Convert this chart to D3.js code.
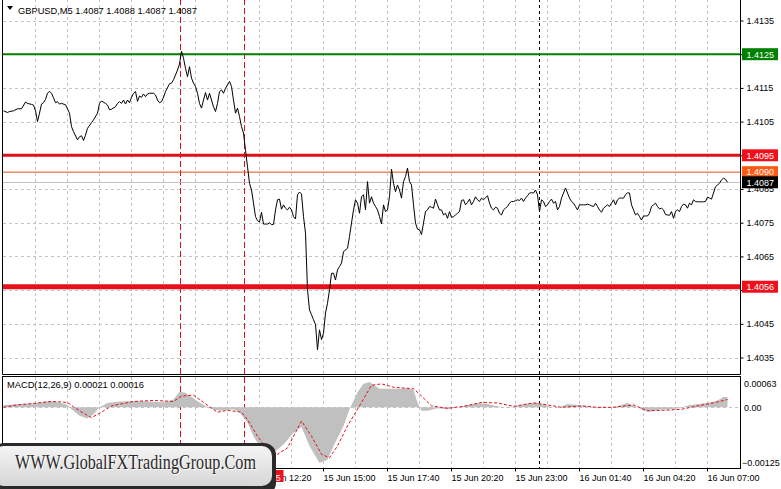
<!DOCTYPE html>
<html><head><meta charset="utf-8">
<script src="https://cdn.jsdelivr.net/npm/d3@7"></script>
<style>html,body{margin:0;padding:0;background:#fff;}svg{display:block;font-family:"Liberation Sans",Arial,sans-serif;}</style>
</head><body><svg id="c" width="781" height="489"></svg>
<script>
// ---------------- DATA ----------------
const symbolTitle = "GBPUSD,M5  1.4087 1.4088 1.4087 1.4087";
const macdTitle = "MACD(12,26,9) 0.00021 0.00016";
const watermarkText = "WWW.GlobalFXTradingGroup.Com";

// bar index (5-minute bars from 15 Jun 01:40) and close price
const priceBars = [0,2,3,5,7,9,11,12,14,15,16,17,18,19,20,21,22,23,24,25,26,27,28,29,31,33,34,35,37,38,39,40,41,42,44,45,47,48,49,51,52,53,54,56,57,58,59,60,61,62,63,64,65,66,67,68,69,70,71,72,73,75,76,77,78,79,80,81,83,84,85,87,88,89,90,91,92,93,94,95,96,97,98,99,100,101,102,103,104,105,106,107,108,109,110,111,112,113,114,115,116,117,118,119,120,121,122,123,124,125,126,127,128,129,130,131,132,133,134,135,136,137,138,139,140,141,142,143,144,145,146,147,148,149,150,151,152,153,154,155,156,157,158,159,160,161,162,163,164,165,166,167,168,169,170,172,173,174,175,176,177,178,179,180,181,182,183,184,185,186,187,188,189,190,191,192,193,194,195,196,197,198,199,200,201,202,203,204,205,206,207,208,209,210,211,212,213,214,215,216,217,218,219,220,221,222,223,224,225,226,227,228,229,230,231,232,233,234,235,236,237,238,239,240,241,242,243,244,245,246,247,248,249,250,251,252,253,254,255,256,257,258,259,260,261,262,263,264,265,266,267,268,269,270,271,272,273,274,275,276,277,278,279,280,281,282,283,284,285,286,287,288,289,290,291,292,293,294,295,296,297,298,299,300,301,302,303,304,305,306,307,308,309,310,311,312,313,314,315,316,317,318,319,320,321,322,323,324,325,326,327,328,329,330,331,332,333,334,335,336,337,338,339,340,341,342,343,344,345,346,347,348,349,350,351,352,353,354,355,356,357,358,359,360,361,362];
const priceCloses = [1.41082,1.41077,1.41080,1.41082,1.41088,1.41088,1.41108,1.41104,1.41101,1.41099,1.41082,1.41050,1.41075,1.41102,1.41106,1.41116,1.41134,1.41140,1.41134,1.41121,1.41106,1.41109,1.41102,1.41104,1.41100,1.41075,1.41035,1.41020,1.40996,1.41005,1.41008,1.40994,1.41010,1.41030,1.41047,1.41055,1.41075,1.41104,1.41111,1.41104,1.41099,1.41085,1.41087,1.41094,1.41104,1.41109,1.41104,1.41114,1.41102,1.41114,1.41106,1.41122,1.41134,1.41139,1.41110,1.41126,1.41122,1.41132,1.41124,1.41132,1.41134,1.41134,1.41129,1.41114,1.41106,1.41109,1.41122,1.41139,1.41162,1.41164,1.41174,1.41203,1.41221,1.41259,1.41238,1.41208,1.41183,1.41213,1.41179,1.41164,1.41154,1.41134,1.41104,1.41090,1.41114,1.41136,1.41114,1.41134,1.41114,1.41094,1.41080,1.41104,1.41139,1.41144,1.41134,1.41149,1.41159,1.41169,1.41154,1.41114,1.41075,1.41090,1.41065,1.41035,1.41016,1.40965,1.40916,1.40867,1.40847,1.40808,1.40768,1.40756,1.40752,1.40781,1.40746,1.40746,1.40746,1.40750,1.40744,1.40745,1.40788,1.40818,1.40820,1.40790,1.40803,1.40793,1.40788,1.40796,1.40788,1.40768,1.40761,1.40833,1.40841,1.40835,1.40768,1.40719,1.40551,1.40491,1.40477,1.40462,1.40448,1.40373,1.40432,1.40403,1.40422,1.40482,1.40511,1.40551,1.40600,1.40600,1.40580,1.40610,1.40620,1.40630,1.40664,1.40674,1.40709,1.40749,1.40788,1.40818,1.40808,1.40778,1.40827,1.40833,1.40788,1.40872,1.40808,1.40827,1.40808,1.40798,1.40788,1.40768,1.40746,1.40803,1.40783,1.40788,1.40827,1.40909,1.40867,1.40842,1.40862,1.40847,1.40823,1.40872,1.40887,1.40912,1.40872,1.40862,1.40803,1.40749,1.40731,1.40729,1.40715,1.40749,1.40783,1.40788,1.40798,1.40796,1.40793,1.40820,1.40803,1.40788,1.40788,1.40773,1.40778,1.40763,1.40783,1.40766,1.40768,1.40773,1.40778,1.40783,1.40816,1.40818,1.40803,1.40810,1.40820,1.40803,1.40813,1.40827,1.40818,1.40813,1.40823,1.40818,1.40824,1.40830,1.40808,1.40793,1.40788,1.40796,1.40793,1.40778,1.40773,1.40788,1.40793,1.40798,1.40808,1.40813,1.40813,1.40815,1.40818,1.40816,1.40823,1.40813,1.40823,1.40830,1.40838,1.40839,1.40838,1.40847,1.40833,1.40783,1.40818,1.40813,1.40798,1.40803,1.40813,1.40820,1.40808,1.40813,1.40788,1.40798,1.40823,1.40838,1.40853,1.40838,1.40823,1.40813,1.40808,1.40798,1.40788,1.40803,1.40803,1.40803,1.40803,1.40805,1.40803,1.40800,1.40798,1.40808,1.40798,1.40788,1.40781,1.40793,1.40798,1.40803,1.40798,1.40808,1.40818,1.40803,1.40818,1.40823,1.40823,1.40823,1.40833,1.40839,1.40838,1.40803,1.40788,1.40773,1.40778,1.40768,1.40758,1.40770,1.40770,1.40770,1.40778,1.40798,1.40803,1.40808,1.40798,1.40791,1.40793,1.40788,1.40774,1.40773,1.40772,1.40783,1.40763,1.40783,1.40788,1.40783,1.40798,1.40805,1.40803,1.40793,1.40808,1.40803,1.40818,1.40813,1.40812,1.40812,1.40812,1.40812,1.40813,1.40826,1.40823,1.40820,1.40838,1.40857,1.40862,1.40867,1.40877,1.40882,1.40879,1.40870];

// MACD histogram (main line) and signal line readings
const histBars   = [0,9,15,23,28,32,34,38,42,45,48,52,58,65,73,80,85,88,91,94,98,103,108,115,118,122,125,128,132,135,140,145,149,153,158,162,165,170,173,177,180,183,188,192,198,202,205,207,209,212,217,222,227,232,237,242,247,252,257,262,267,272,277,282,287,292,297,302,307,312,317,320,323,328,333,338,343,348,353,357,360,362];
const histValues = [0.00005,0.00007,0.00008,0.00013,0.00010,0.00005,-0.00004,-0.00017,-0.00023,-0.00014,0.00000,0.00009,0.00012,0.00013,0.00012,0.00010,0.00016,0.00032,0.00030,0.00021,0.00010,-0.00002,-0.00007,-0.00004,-0.00010,-0.00031,-0.00059,-0.00079,-0.00090,-0.00093,-0.00076,-0.00052,-0.00040,-0.00079,-0.00114,-0.00107,-0.00079,-0.00038,-0.00004,0.00031,0.00048,0.00052,0.00038,0.00038,0.00038,0.00039,0.00036,0.00010,-0.00007,-0.00007,-0.00002,-0.00004,0.00000,0.00005,0.00009,0.00007,0.00002,-0.00001,0.00003,0.00008,0.00010,0.00003,-0.00002,0.00007,0.00005,0.00002,-0.00002,-0.00001,0.00002,0.00009,0.00000,-0.00007,-0.00009,-0.00005,-0.00004,-0.00002,0.00005,0.00007,0.00010,0.00014,0.00021,0.00021];
const signalBars   = [0,7,15,24,32,35,40,44,49,54,65,75,85,89,95,100,107,112,119,122,127,132,137,142,149,154,159,163,167,172,179,184,189,195,205,208,214,222,230,239,247,255,265,272,279,289,297,305,315,322,330,339,347,355,362];
const signalValues = [0.00000,0.00005,0.00008,0.00012,0.00010,0.00001,-0.00012,-0.00021,-0.00010,0.00003,0.00012,0.00014,0.00012,0.00023,0.00025,0.00010,-0.00010,-0.00006,-0.00010,-0.00025,-0.00059,-0.00086,-0.00096,-0.00083,-0.00028,-0.00059,-0.00096,-0.00103,-0.00079,-0.00038,0.00010,0.00045,0.00048,0.00041,0.00038,0.00027,0.00003,-0.00002,0.00002,0.00010,0.00009,0.00002,0.00009,0.00005,0.00000,0.00003,0.00000,0.00000,0.00005,-0.00007,-0.00006,-0.00004,0.00003,0.00009,0.00016];

const priceTicks = [1.4035,1.4045,1.4055,1.4065,1.4075,1.4085,1.4095,1.4105,1.4115,1.4125,1.4135];
const macdTicks = [0.00063, 0, -0.00125];
// visible time-scale labels (earlier ones lie under the watermark)
const timeLabelBars = [128,160,192,224,256,288,320,352];
const timeLabels = ["15 Jun 12:20","15 Jun 15:00","15 Jun 17:40","15 Jun 20:20","15 Jun 23:00","16 Jun 01:40","16 Jun 04:20","16 Jun 07:00"];
const levelPrices = [1.4125, 1.4095, 1.4090, 1.4056];
const bidPrice = 1.4087;
const vLineBars = [89, 121];
const vLineLabel = "15 Jun 11:45";
const daySeparatorBars = [268];
const gridStepBars = 16;
const lastBar = 368;

// ---------------- STYLES ----------------
const levelStyle = [
  {color:"#008000", width:2, box:"#008000"},
  {color:"#e0101a", width:3, box:"#f0101c"},
  {color:"#e8501a", width:1, box:"#ff5a14"},
  {color:"#e8101a", width:5, box:"#f0101c"}
];

// ---------------- LAYOUT ----------------
const svg = d3.select("#c");
const L = 2.5, R = 740.5, MT = -1, MB = 374.5, ST = 376.5, SB = 468.5;

const x = d3.scaleLinear().domain([0, 1]).range([3.5, 5.5]);
const y = d3.scaleLinear().domain([1.4035, 1.4135]).range([357.5, 20.5]);
const ym = d3.scaleLinear().domain([-0.00125, 0.00063]).range([SB, ST]);

const gridColor = "#c4c4c4";
const dash = "3,3";

const defs = svg.append("defs");
defs.append("clipPath").attr("id","cm").append("rect").attr("x",L).attr("y",0).attr("width",R-L).attr("height",MB);
defs.append("clipPath").attr("id","cs").append("rect").attr("x",L).attr("y",ST).attr("width",R-L).attr("height",SB-ST);

// vertical grid (both panels)
const gridBars = d3.range(gridStepBars, lastBar, gridStepBars);
[[MT, MB],[ST, SB]].forEach(([t,b]) => {
  svg.append("g").selectAll("line").data(gridBars).join("line")
    .attr("x1", d=>x(d)).attr("x2", d=>x(d))
    .attr("y1", t).attr("y2", b)
    .attr("stroke", gridColor).attr("stroke-dasharray", dash).attr("shape-rendering","crispEdges");
});
// horizontal grid main
svg.append("g").selectAll("line").data(priceTicks).join("line")
  .attr("x1", L).attr("x2", R).attr("y1", d=>Math.round(y(d))+0.5).attr("y2", d=>Math.round(y(d))+0.5)
  .attr("stroke", gridColor).attr("stroke-dasharray", dash).attr("shape-rendering","crispEdges");
// zero line MACD
svg.append("line").attr("x1",L).attr("x2",R).attr("y1",Math.round(ym(0))+0.5).attr("y2",Math.round(ym(0))+0.5)
  .attr("stroke", gridColor).attr("stroke-dasharray", dash).attr("shape-rendering","crispEdges");

// day separator
svg.append("g").selectAll("line").data(daySeparatorBars).join("line")
  .attr("x1", d=>x(d)).attr("x2", d=>x(d)).attr("y1", MT).attr("y2", SB)
  .attr("stroke", "#000").attr("stroke-dasharray", "3,3").attr("shape-rendering","crispEdges");

// vertical red dashed lines
svg.append("g").selectAll("line").data(vLineBars).join("line")
  .attr("x1", d=>x(d)-1).attr("x2", d=>x(d)-1).attr("y1", MT).attr("y2", SB)
  .attr("stroke", "#e0101a").attr("stroke-dasharray", "6,3").attr("shape-rendering","crispEdges");

// bid line
svg.append("line").attr("x1",L).attr("x2",R).attr("y1",Math.round(y(bidPrice))+0.5).attr("y2",Math.round(y(bidPrice))+0.5)
  .attr("stroke","#c0c0c0").attr("shape-rendering","crispEdges");

// level lines
levelPrices.forEach((p,i) => {
  svg.append("line").attr("x1",L).attr("x2",R).attr("y1",y(p)).attr("y2",y(p))
    .attr("stroke", levelStyle[i].color).attr("stroke-width", levelStyle[i].width);
});

// price line
const priceData = priceBars.map((b,i)=>({b, v:priceCloses[i]}));
svg.append("path").datum(priceData).attr("clip-path","url(#cm)")
  .attr("d", d3.line().x(d=>x(d.b)).y(d=>y(d.v)))
  .attr("fill","none").attr("stroke","#000").attr("stroke-width",1);

// MACD histogram
const histData = histBars.map((b,i)=>({b, v:histValues[i]}));
svg.append("path").datum(histData).attr("clip-path","url(#cs)")
  .attr("d", d3.area().x(d=>x(d.b)).y0(ym(0)).y1(d=>ym(d.v)))
  .attr("fill","#c0c0c0");
// signal
const sigData = signalBars.map((b,i)=>({b, v:signalValues[i]}));
svg.append("path").datum(sigData).attr("clip-path","url(#cs)")
  .attr("d", d3.line().x(d=>x(d.b)).y(d=>ym(d.v)))
  .attr("fill","none").attr("stroke","#e0101a").attr("stroke-dasharray","3,2");

// frames
svg.append("line").attr("x1",L).attr("x2",L).attr("y1",MT).attr("y2",MB).attr("stroke","#000");
svg.append("line").attr("x1",L).attr("x2",R).attr("y1",MB).attr("y2",MB).attr("stroke","#000");
svg.append("line").attr("x1",R).attr("x2",R).attr("y1",MT).attr("y2",MB).attr("stroke","#000");
svg.append("rect").attr("x",L).attr("y",ST).attr("width",R-L).attr("height",SB-ST).attr("fill","none").attr("stroke","#000");

// price axis (labels hidden under a level box are not drawn)
const boxed = levelPrices.map(p=>p);
const yAxis = d3.axisRight(y).tickValues(priceTicks).tickSize(3).tickPadding(3)
  .tickFormat(d => boxed.some(p => Math.abs(y(p)-y(d)) < 5) ? "" : d3.format(".4f")(d));
const ga = svg.append("g").attr("transform",`translate(${R},0)`).call(yAxis);
ga.select(".domain").remove();
ga.selectAll("text").attr("font-size",9).attr("font-family","Liberation Sans, Arial").attr("fill","#000");
ga.selectAll("line").attr("stroke","#000");

// level boxes
const boxes = levelPrices.map((p,i)=>({p, fill:levelStyle[i].box, fg:"#fff"}));
boxes.push({p:bidPrice, fill:"#000", fg:"#fff"});
const bg = svg.append("g");
boxes.forEach(d => {
  const yy = y(d.p);
  bg.append("rect").attr("x",R+1.5).attr("y",yy-6).attr("width",36).attr("height",12).attr("fill",d.fill);
  bg.append("text").attr("x",R+6).attr("y",yy+3.3).attr("font-size",9).attr("fill",d.fg).text(d3.format(".4f")(d.p));
});

// MACD axis labels
const gm = svg.append("g");
gm.selectAll("text").data(macdTicks).join("text")
  .attr("x", d=> d<0 ? R+1.5 : R+3.5)
  .attr("y", (d,i)=> i===0 ? ym(d)+10.5 : (i===2 ? ym(d)-2.5 : ym(d)+3.3))
  .attr("font-size",9).text(d=> d===0 ? "0.00" : d3.format(".5f")(d));

// time labels
svg.append("g").selectAll("text").data(timeLabels).join("text")
  .attr("x", (d,i)=>x(timeLabelBars[i])).attr("y", 480.5).attr("font-size",9).text(d=>d);
svg.append("g").selectAll("line").data(timeLabelBars).join("line")
  .attr("x1",d=>x(d)).attr("x2",d=>x(d)).attr("y1",SB).attr("y2",SB+3).attr("stroke","#000");

// red time label of vertical line
const vx = x(vLineBars[1]);
svg.append("rect").attr("x",vx-18).attr("y",470).attr("width",56).attr("height",12).attr("fill","#f0101c");
svg.append("text").attr("x",vx-16).attr("y",480.5).attr("font-size",9).attr("fill","#fff").text(vLineLabel);

// titles
svg.append("path").attr("d","M7,6 L13,6 L10,10 Z").attr("fill","#000");
svg.append("text").attr("x",18).attr("y",13.5).attr("font-size",9.3).text(symbolTitle);
svg.append("text").attr("x",7).attr("y",388).attr("font-size",9.3).text(macdTitle);

// watermark
const wg = defs.append("linearGradient").attr("id","wg").attr("x1",0).attr("y1",0).attr("x2",0).attr("y2",1);
wg.append("stop").attr("offset","0").attr("stop-color","#f4f4f4");
wg.append("stop").attr("offset","1").attr("stop-color","#d6d6d6");
svg.append("rect").attr("x",-8).attr("y",443).attr("width",284).attr("height",52).attr("rx",12).attr("fill","#2a2a2a");
svg.append("rect").attr("x",-6).attr("y",446).attr("width",278).attr("height",40).attr("rx",10).attr("fill","url(#wg)");
svg.append("text").attr("x",16).attr("y",470).attr("font-family","Liberation Serif, Times New Roman, serif")
  .attr("font-size",21).attr("fill","#fff").attr("textLength",241).attr("lengthAdjust","spacingAndGlyphs").text(watermarkText);
svg.append("text").attr("x",15).attr("y",469).attr("font-family","Liberation Serif, Times New Roman, serif")
  .attr("font-size",21).attr("fill","#2a2a2a").attr("textLength",241).attr("lengthAdjust","spacingAndGlyphs").text(watermarkText);
</script></body></html>
